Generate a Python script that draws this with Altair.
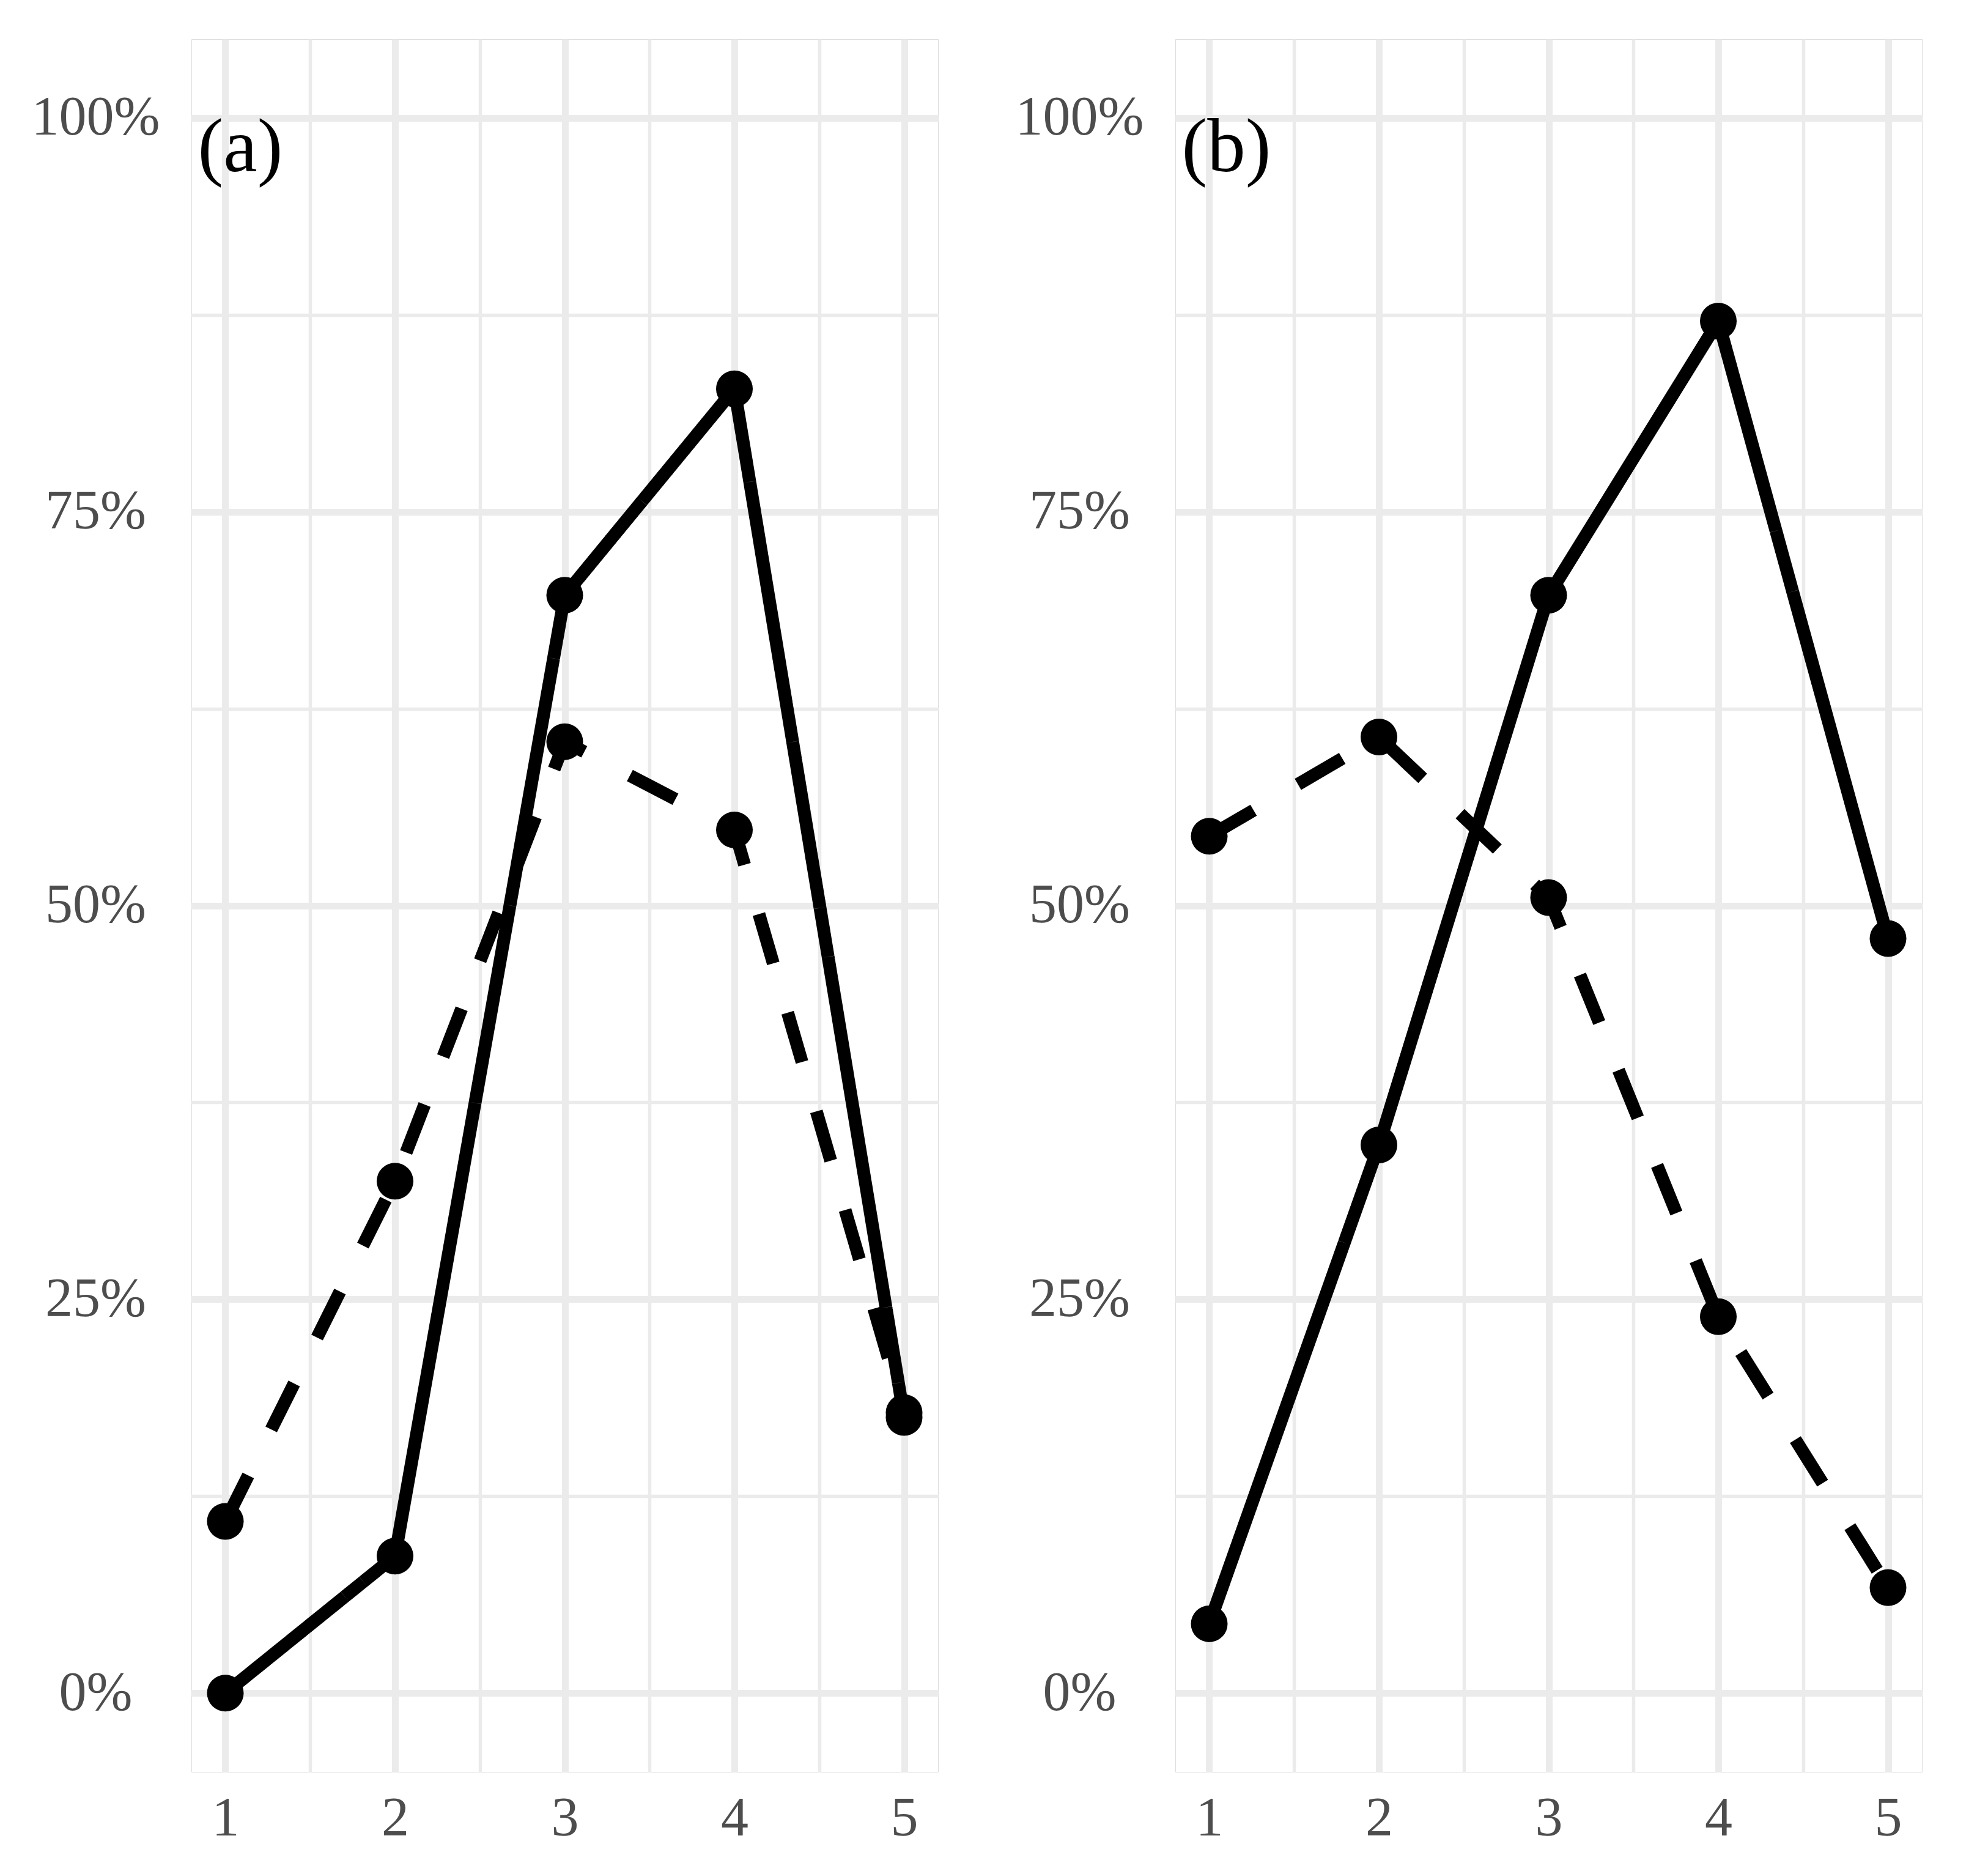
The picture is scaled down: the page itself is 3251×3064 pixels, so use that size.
import altair as alt
import pandas as pd

x_vals = [1, 2, 3, 4, 5]
a_solid = [0.0, 8.7, 69.7, 82.8, 17.5]
a_dashed = [10.9, 32.5, 60.4, 54.8, 17.8]
b_solid = [4.4, 34.8, 69.7, 87.1, 47.9]
b_dashed = [54.4, 60.7, 50.5, 23.9, 6.7]
panel_labels = ["(a)", "(b)"]
series_names = ["solid", "dashed"]
y_ticks = [0, 12.5, 25, 37.5, 50, 62.5, 75, 87.5, 100]
x_ticks = [1, 1.5, 2, 2.5, 3, 3.5, 4, 4.5, 5]

FONT = "Liberation Serif"
GRID = "#EBEBEB"


def make_df(solid, dashed):
    rows = []
    for xv, s in zip(x_vals, solid):
        rows.append({"x": xv, "y": s, "series": "solid"})
    for xv, d in zip(x_vals, dashed):
        rows.append({"x": xv, "y": d, "series": "dashed"})
    return pd.DataFrame(rows)


def panel(solid, dashed, label):
    df = make_df(solid, dashed)
    xenc = alt.X(
        "x:Q",
        scale=alt.Scale(domain=[0.8, 5.2], nice=False, zero=False),
        axis=alt.Axis(
            values=x_ticks,
            labelExpr="datum.value % 1 === 0 ? '' + datum.value : ''",
            title=None, domain=False, ticks=False,
            labelPadding=32, labelFontSize=90, labelColor="#4D4D4D",
            labelFont=FONT, labelOverlap=False, labelFlush=False, labelLimit=0,
            grid=True, gridColor=GRID,
            gridWidth={"condition": {"test": "datum.value % 1 === 0", "value": 11}, "value": 5.5},
        ),
    )
    yenc = alt.Y(
        "y:Q",
        scale=alt.Scale(domain=[-5, 105], nice=False, zero=False),
        axis=alt.Axis(
            values=y_ticks,
            labelExpr="datum.value % 25 === 0 ? datum.value + '%' : ''",
            title=None, domain=False, ticks=False,
            labelAlign="center",
            labelPadding=157, labelFontSize=90, labelColor="#4D4D4D",
            labelFont=FONT, labelOverlap=False, labelFlush=False, labelLimit=0,
            grid=True, gridColor=GRID,
            gridWidth={"condition": {"test": "datum.value % 25 === 0", "value": 11}, "value": 5.5},
        ),
    )
    dash = alt.StrokeDash(
        "series:N",
        scale=alt.Scale(domain=series_names, range=[[1, 0], [84, 84]]),
        legend=None,
    )
    base = alt.Chart(df)
    lines = base.mark_line(color="black", strokeWidth=21, strokeCap="butt").encode(
        x=xenc, y=yenc, strokeDash=dash, detail="series:N"
    )
    points = base.mark_circle(color="black", size=3600, opacity=1).encode(
        x="x:Q", y="y:Q"
    )
    txt = alt.Chart(pd.DataFrame({"label": [label]})).mark_text(
        font=FONT, fontSize=125, color="black", align="left", baseline="middle"
    ).encode(x=alt.datum(0.838), y=alt.datum(98.1), text="label:N")
    return alt.layer(lines, points, txt).properties(width=1221, height=2833)


chart = alt.hconcat(
    panel(a_solid, a_dashed, panel_labels[0]),
    panel(b_solid, b_dashed, panel_labels[1]),
    spacing=124,
).properties(
    padding={"left": 42, "top": 55, "right": 5, "bottom": 5}
).configure_view(stroke=None).configure(background="white")

chart.save("out.html", embed_options={"renderer": "svg", "actions": False})
